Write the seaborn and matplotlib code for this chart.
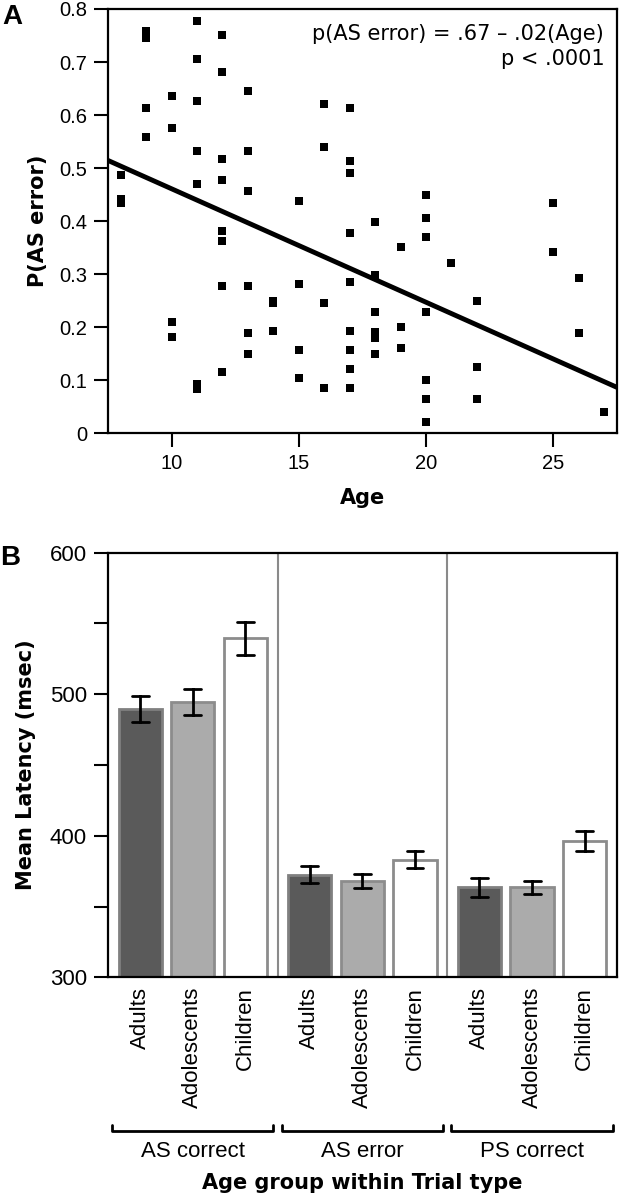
import numpy as np
import pandas as pd
import matplotlib
matplotlib.use("Agg")
import matplotlib.pyplot as plt
import seaborn as sns

# Panel A: age vs probability of antisaccade error (one entry per subject)
ages = [8, 8, 8,
        9, 9, 9, 9,
        10, 10, 10, 10,
        11, 11, 11, 11, 11, 11, 11,
        12, 12, 12, 12, 12, 12, 12, 12,
        13, 13, 13, 13, 13, 13,
        14, 14, 14,
        15, 15, 15, 15,
        16, 16, 16, 16,
        17, 17, 17, 17, 17, 17, 17, 17, 17,
        18, 18, 18, 18, 18, 18,
        19, 19, 19,
        20, 20, 20, 20, 20, 20, 20,
        21,
        22, 22, 22,
        25, 25,
        26, 26,
        27]
p_as_error = [0.486, 0.441, 0.434,
              0.758, 0.745, 0.614, 0.558,
              0.635, 0.575, 0.209, 0.181,
              0.778, 0.706, 0.626, 0.533, 0.470, 0.092, 0.084,
              0.751, 0.682, 0.518, 0.477, 0.382, 0.363, 0.277, 0.116,
              0.646, 0.533, 0.457, 0.277, 0.189, 0.149,
              0.250, 0.246, 0.193,
              0.438, 0.281, 0.157, 0.105,
              0.621, 0.540, 0.245, 0.085,
              0.614, 0.513, 0.491, 0.378, 0.285, 0.193, 0.157, 0.121, 0.085,
              0.399, 0.298, 0.229, 0.191, 0.180, 0.149,
              0.351, 0.201, 0.161,
              0.450, 0.406, 0.370, 0.229, 0.101, 0.065, 0.022,
              0.321,
              0.250, 0.125, 0.064,
              0.435, 0.342,
              0.293, 0.189,
              0.040]
fit_intercept = 0.675
fit_slope = -0.0214

# Panel B: mean latency with error bars
trials = ["AS correct", "AS error", "PS correct"]
groups = ["Adults", "Adolescents", "Children"]
latency_mean = {
    "Adults":      [489.5, 372.5, 363.5],
    "Adolescents": [494.5, 368.0, 363.5],
    "Children":    [539.5, 383.0, 396.5],
}
latency_err = {
    "Adults":      [9.0, 6.0, 6.5],
    "Adolescents": [9.0, 5.0, 4.5],
    "Children":    [11.5, 6.0, 7.0],
}
bar_fill = {"Adults": "#5a5a5a", "Adolescents": "#ababab", "Children": "#ffffff"}
bar_edge = {"Adults": "#808080", "Adolescents": "#8c8c8c", "Children": "#8c8c8c"}

sns.set_style("white")
plt.rcParams["font.family"] = ["Liberation Sans", "DejaVu Sans"]
plt.rcParams.update({"text.color": "black", "axes.labelcolor": "black",
                     "xtick.color": "black", "ytick.color": "black"})

fig = plt.figure(figsize=(6.2, 12), dpi=100)
ax_a = fig.add_axes([0.174, 0.639, 0.821, 0.3535])
ax_b = fig.add_axes([0.174, 0.1856, 0.821, 0.3538])

# ---- Panel A
sns.scatterplot(x=ages, y=p_as_error, marker="s", s=32, color="black",
                linewidth=0, ax=ax_a)
xlim_a = (7.5, 27.5)
line_x = np.array(xlim_a)
sns.lineplot(x=line_x, y=fit_intercept + fit_slope * line_x, color="black",
             linewidth=3.5, ax=ax_a)
ax_a.set_xlim(*xlim_a)
ax_a.set_ylim(0, 0.8)
ax_a.set_xticks([10, 15, 20, 25])
yt = np.round(np.arange(0, 0.81, 0.1), 1)
ax_a.set_yticks(yt, ["0"] + [f"{v:.1f}" for v in yt[1:]])
ax_a.tick_params(direction="out", length=10, width=1.5, labelsize=14.5,
                 color="black", pad=5, left=True, bottom=True)
ax_a.set_xlabel("Age", fontsize=15, fontweight="bold", family="DejaVu Sans",
                labelpad=11)
ax_a.set_ylabel("P(AS error)", fontsize=15, fontweight="bold",
                family="DejaVu Sans", labelpad=8)
for sp in ax_a.spines.values():
    sp.set_color("black")
    sp.set_linewidth(1.6)
ax_a.text(0.975, 0.965, "p(AS error) = .67 \u2013 .02(Age)", transform=ax_a.transAxes,
          ha="right", va="top", fontsize=15, family="DejaVu Sans")
ax_a.text(0.975, 0.905, "p < .0001", transform=ax_a.transAxes,
          ha="right", va="top", fontsize=15, family="DejaVu Sans")

# ---- Panel B
rows = []
for g in groups:
    for t, m, e in zip(trials, latency_mean[g], latency_err[g]):
        rows.append({"trial": t, "group": g, "latency": m - e})
        rows.append({"trial": t, "group": g, "latency": m + e})
df = pd.DataFrame(rows)

sns.barplot(data=df, x="trial", y="latency", hue="group", order=trials,
            hue_order=groups, palette=bar_fill, estimator="mean",
            errorbar=lambda v: (v.min(), v.max()), width=0.93, gap=0.18,
            capsize=0.3, err_kws={"color": "black", "linewidth": 2},
            linewidth=2, legend=False, ax=ax_b)
for cont, g in zip(ax_b.containers, groups):
    for bar in cont:
        bar.set_edgecolor(bar_edge[g])

ax_b.set_ylim(300, 600)
ax_b.set_xlim(-0.5, 2.5)
ax_b.set_yticks(np.arange(300, 601, 50),
                ["300", "", "400", "", "500", "", "600"])
ax_b.tick_params(axis="y", direction="out", length=10, width=1.5,
                 labelsize=16, color="black", pad=5, left=True)

centers = []
labels = []
for cont, g in zip(ax_b.containers, groups):
    for bar in cont:
        centers.append(bar.get_x() + bar.get_width() / 2)
        labels.append(g)
ax_b.set_xticks(centers, labels, rotation=90)
ax_b.tick_params(axis="x", length=0, labelsize=16, pad=7)
ax_b.set_xlabel("")
ax_b.set_ylabel("Mean Latency (msec)", fontsize=15, fontweight="bold",
                family="DejaVu Sans", labelpad=10)
for sp in ax_b.spines.values():
    sp.set_color("black")
    sp.set_linewidth(1.6)
for xv in [0.5, 1.5]:
    ax_b.axvline(xv, color="#8a8a8a", linewidth=1.5)

# brackets with trial-type names under the age-group labels
trans = ax_b.get_xaxis_transform()
for i, t in enumerate(trials):
    x0, x1 = i - 0.475, i + 0.475
    ax_b.plot([x0, x0, x1, x1], [-0.347, -0.362, -0.362, -0.347],
              color="black", linewidth=2, transform=trans, clip_on=False)
    ax_b.text(i, -0.385, t, transform=trans, ha="center", va="top",
              fontsize=16)
ax_b.text(0.5, -0.46, "Age group within Trial type", transform=ax_b.transAxes,
          ha="center", va="top", fontsize=15, fontweight="bold",
          family="DejaVu Sans")

fig.text(0.004, 0.997, "A", fontsize=20, fontweight="bold", va="top", ha="left")
fig.text(0.0, 0.546, "B", fontsize=20, fontweight="bold", va="top", ha="left")

fig.savefig("out.png", dpi=100)
